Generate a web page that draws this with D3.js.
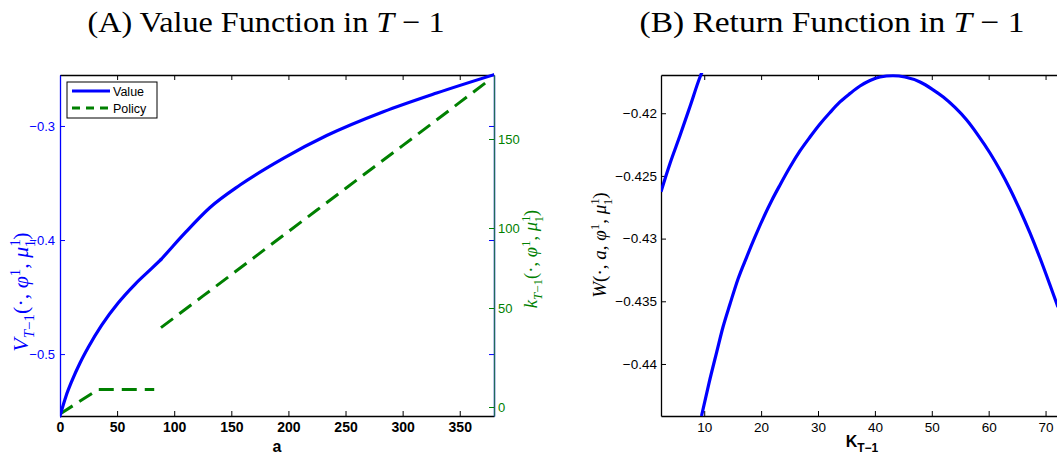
<!DOCTYPE html>
<html>
<head>
<meta charset="utf-8">
<script src="https://cdn.jsdelivr.net/npm/d3@7"></script>
<style>
body { margin: 0; background: #fff; }
svg { display: block; }
.tk text { font-family: "Liberation Sans", Arial, sans-serif; font-size: 13px; }
</style>
</head>
<body>
<script>
// (A) value function (kink at a = 88.43) and policy
var valueA = [0, 5.25, 10.51, 17.51, 24.78, 36.51, 51.05, 65.67, 80.29, 88.43,
              98.06, 109.45, 131.34, 157.6, 195.5, 233.5, 283.1, 329.8, 380];
var valueV = [-0.5543, -0.5369, -0.5233, -0.5078, -0.4940, -0.4746, -0.4550, -0.4388, -0.4249, -0.4171,
              -0.4063, -0.3938, -0.3715, -0.3518, -0.3284, -0.3084, -0.2875, -0.2711, -0.2550];
var kinkA = 88.43;
var policyA = [0, 20, 33.5, 82.5, 85, 88.4, 100, 125, 150, 175, 200, 225, 250, 275, 300, 325, 350, 377.8];
var policyK = [-3.5, 3.9, 8.9, 8.9, null, 40.1, 45.1, 57.4, 70.8, 84.3, 97.8, 110.1, 122.2, 134.3, 146.3, 158.4, 170.6, 184.1];

// (B) return function, two pieces
var retLeftK = [2.4, 3.98, 5.74, 7.50, 9.26, 9.61];
var retLeftW = [-0.42626, -0.42401, -0.42178, -0.41946, -0.41711, -0.41672];
var retMainK = [9.52, 10.84, 12.19, 13.30, 14.53, 15.94, 17.46, 18.92, 20.38, 21.91, 23.32, 25.08, 26.83, 28.59,
                30.35, 32.11, 33.86, 35.62, 37.38, 39.14, 40.90, 43.18, 45.29, 47.93, 50.04, 52.02, 54.08,
                56.14, 58.12, 60.23, 61.99, 63.75, 65.50, 67.26, 69.02, 70.78, 72.18];
var retMainW = [-0.44415, -0.44152, -0.43905, -0.43705, -0.43522, -0.43322, -0.43147, -0.42987, -0.42836,
                -0.42692, -0.42572, -0.42429, -0.42301, -0.42190, -0.42086, -0.41994, -0.41910, -0.41843,
                -0.41783, -0.41739, -0.41711, -0.41701, -0.41711, -0.41751, -0.41807, -0.41871, -0.41954,
                -0.42054, -0.42174, -0.42317, -0.42453, -0.42604, -0.42772, -0.42955, -0.43155, -0.43370, -0.43546];

var xTicksA = [0, 50, 100, 150, 200, 250, 300, 350];
var yTicksA = [-0.5, -0.4, -0.3];
var kTicksA = [0, 50, 100, 150];
var xTicksB = [10, 20, 30, 40, 50, 60, 70];
var yTicksB = [-0.44, -0.435, -0.43, -0.425, -0.42];

var W = 1057, H = 459;
var blue = "#0000ff", green = "#008000";

var svg = d3.select("body").append("svg").attr("width", W).attr("height", H);

var minus = function(d) { return (d < 0 ? "\u2212" : "") + Math.abs(d); };

function zip(xs, ys) {
  return xs.map(function(x, i) { return {x: x, y: ys[i]}; });
}

function mathText(sel, parts) {
  parts.forEach(function(p) {
    sel.append("tspan").text(p.t)
      .attr("font-style", p.i ? "italic" : null)
      .attr("font-size", p.s || null)
      .attr("dx", p.dx || null)
      .attr("dy", p.dy || null);
  });
}

function styleAxis(g, color) {
  g.selectAll("path").attr("stroke", color).attr("stroke-width", 1.3);
  g.selectAll("line").attr("stroke", color).attr("stroke-width", 1);
  g.selectAll("text").attr("fill", color);
}

// label like X_{T-1}(., phi^1, mu^1_1)
function funcLabel(head, sub, size, small) {
  var sh = Math.round(size * 0.27), up = Math.round(size * 0.37);
  var parts = [{t: head, i: 1}];
  if (sub) parts.push({t: "T", i: 1, s: small, dy: sh}, {t: "\u22121", s: small}, {t: "(\u00b7, ", dy: -sh});
  else parts.push({t: "(\u00b7, "}, {t: "a", i: 1}, {t: ", "});
  parts.push({t: "\u03c6", i: 1}, {t: "1", s: small, dy: -up}, {t: ", ", dy: up}, {t: "\u03bc", i: 1},
    {t: "1", s: small, dy: -up}, {t: "1", s: small, dx: -small * 0.5, dy: up + sh + 1}, {t: ")", dy: -sh - 1});
  return parts;
}

// ---------- panel A ----------
var A = {left: 60, right: 494, top: 75, bottom: 416};

var xA = d3.scaleLinear().domain([0, 380]).range([A.left, A.right]);
var yA = d3.scaleLinear().domain([-0.5543, -0.2553]).range([A.bottom, A.top]);
// right axis ticks in the picture are not evenly spaced
var kA = d3.scaleLinear().domain([-4.5, 0, 50, 100, 150, 186]).range([416, 407, 308, 228, 139, 75]);

svg.append("clipPath").attr("id", "clipA").append("rect")
  .attr("x", A.left).attr("y", A.top - 2).attr("width", A.right - A.left).attr("height", A.bottom - A.top + 4);

var gx = svg.append("g").attr("class", "tk").attr("transform", "translate(0," + A.bottom + ")")
  .call(d3.axisBottom(xA).tickValues(xTicksA).tickSize(-5).tickSizeOuter(0).tickPadding(6));
styleAxis(gx, "#000");
gx.selectAll("text").attr("font-weight", "bold").style("font-size", "14px");

var gxt = svg.append("g").attr("class", "tk").attr("transform", "translate(0," + A.top + ")")
  .call(d3.axisTop(xA).tickValues(xTicksA).tickSize(-5).tickSizeOuter(0).tickFormat(""));
styleAxis(gxt, "#000");

var gyr = svg.append("g").attr("class", "tk").attr("transform", "translate(" + A.right + ",0)")
  .call(d3.axisRight(yA).tickValues(yTicksA).tickSize(-5).tickSizeOuter(0).tickFormat(""));
styleAxis(gyr, blue);

var gk = svg.append("g").attr("class", "tk").attr("transform", "translate(" + A.right + ",0)")
  .call(d3.axisRight(kA).tickValues(kTicksA).tickSize(-5).tickSizeOuter(0).tickPadding(4).tickFormat(d3.format("d")));
styleAxis(gk, green);
gk.select("path").attr("stroke", "#1f6a5a");

var gy = svg.append("g").attr("class", "tk").attr("transform", "translate(" + A.left + ",0)")
  .call(d3.axisLeft(yA).tickValues(yTicksA).tickSize(-5).tickSizeOuter(0).tickPadding(5).tickFormat(minus));
styleAxis(gy, blue);

var lineA = d3.line().curve(d3.curveMonotoneX).x(function(d) { return xA(d.x); }).y(function(d) { return yA(d.y); });
var lineK = d3.line().defined(function(d) { return d.y !== null; })
  .x(function(d) { return xA(d.x); }).y(function(d) { return kA(d.y); });

svg.append("path").datum(zip(policyA, policyK)).attr("clip-path", "url(#clipA)")
  .attr("d", lineK).attr("fill", "none").attr("stroke", green)
  .attr("stroke-width", 3).attr("stroke-dasharray", "15,8");

var valuePts = zip(valueA, valueV);
[valuePts.filter(function(d) { return d.x <= kinkA; }), valuePts.filter(function(d) { return d.x >= kinkA; })]
  .forEach(function(pts) {
    svg.append("path").datum(pts).attr("clip-path", "url(#clipA)")
      .attr("d", lineA).attr("fill", "none").attr("stroke", blue).attr("stroke-width", 3.2)
      .attr("stroke-linejoin", "round").attr("stroke-linecap", "round");
  });

// legend
var lg = svg.append("g").attr("transform", "translate(67,82)");
lg.append("rect").attr("width", 90).attr("height", 36).attr("fill", "#fff").attr("stroke", "#000").attr("stroke-width", 1);
var legendItems = [{name: "Value", color: blue, dash: null}, {name: "Policy", color: green, dash: "8,6"}];
legendItems.forEach(function(it, i) {
  var yy = 9 + i * 17;
  lg.append("line").attr("x1", 5).attr("x2", 43).attr("y1", yy).attr("y2", yy)
    .attr("stroke", it.color).attr("stroke-width", 3).attr("stroke-dasharray", it.dash);
  lg.append("text").attr("x", 46).attr("y", yy + 4.5).text(it.name)
    .style("font-family", "Liberation Sans, Arial, sans-serif").style("font-size", "12.5px");
});

// axis titles A
svg.append("text").attr("x", 277).attr("y", 452).attr("text-anchor", "middle")
  .style("font-family", "Liberation Sans, Arial, sans-serif").style("font-size", "16px").attr("font-weight", "bold").text("a");

var vl = svg.append("text").attr("transform", "translate(28,292) rotate(-90)").attr("text-anchor", "middle")
  .attr("fill", blue).style("font-family", "Liberation Serif, serif").style("font-size", "22px");
mathText(vl, funcLabel("V", true, 22, 15));

var kl = svg.append("text").attr("transform", "translate(537,259) rotate(-90)").attr("text-anchor", "middle")
  .attr("fill", green).style("font-family", "Liberation Serif, serif").style("font-size", "18.5px");
mathText(kl, funcLabel("k", true, 18.5, 13));

// ---------- panel B ----------
var B = {left: 661, right: 1074, top: 75, bottom: 416};

var xB = d3.scaleLinear().domain([2.4, 75]).range([B.left, B.right]);
var yB = d3.scaleLinear().domain([-0.44415, -0.41695]).range([B.bottom, B.top]);

svg.append("clipPath").attr("id", "clipB").append("rect")
  .attr("x", B.left).attr("y", B.top - 2).attr("width", B.right - B.left).attr("height", B.bottom - B.top + 4);

var bx = svg.append("g").attr("class", "tk").attr("transform", "translate(0," + B.bottom + ")")
  .call(d3.axisBottom(xB).tickValues(xTicksB).tickSize(-5).tickSizeOuter(0).tickPadding(6));
styleAxis(bx, "#000");
bx.selectAll("text").style("font-size", "13.5px");

var bxt = svg.append("g").attr("class", "tk").attr("transform", "translate(0," + B.top + ")")
  .call(d3.axisTop(xB).tickValues(xTicksB).tickSize(-5).tickSizeOuter(0).tickFormat(""));
styleAxis(bxt, "#000");

var by = svg.append("g").attr("class", "tk").attr("transform", "translate(" + B.left + ",0)")
  .call(d3.axisLeft(yB).tickValues(yTicksB).tickSize(-5).tickSizeOuter(0).tickPadding(4).tickFormat(minus));
styleAxis(by, "#000");
by.selectAll("text").style("font-size", "13.5px");

var lineB = d3.line().curve(d3.curveMonotoneX).x(function(d) { return xB(d.x); }).y(function(d) { return yB(d.y); });
[zip(retLeftK, retLeftW), zip(retMainK, retMainW)].forEach(function(pts) {
  svg.append("path").datum(pts).attr("clip-path", "url(#clipB)")
    .attr("d", lineB).attr("fill", "none").attr("stroke", blue).attr("stroke-width", 3.2);
});

var kxl = svg.append("text").attr("x", 862).attr("y", 447).attr("text-anchor", "middle")
  .style("font-family", "Liberation Sans, Arial, sans-serif").style("font-size", "16px").attr("font-weight", "bold");
mathText(kxl, [{t: "K"}, {t: "T\u22121", s: 12, dy: 5}]);

var wl = svg.append("text").attr("transform", "translate(606,245) rotate(-90)").attr("text-anchor", "middle")
  .attr("fill", "#000").style("font-family", "Liberation Serif, serif").style("font-size", "19px");
mathText(wl, funcLabel("W", false, 19, 13));

// ---------- titles ----------
var titles = [{x: 266, w: 357, parts: [{t: "(A) Value Function in "}, {t: "T", i: 1}, {t: " \u2212 1"}]},
              {x: 832, w: 385, parts: [{t: "(B) Return Function in "}, {t: "T", i: 1}, {t: " \u2212 1"}]}];
titles.forEach(function(tt) {
  var t = svg.append("text").attr("x", tt.x).attr("y", 32).attr("text-anchor", "middle")
    .attr("textLength", tt.w).attr("lengthAdjust", "spacingAndGlyphs")
    .style("font-family", "Liberation Serif, serif").style("font-size", "30px");
  mathText(t, tt.parts);
});
</script>
</body>
</html>
